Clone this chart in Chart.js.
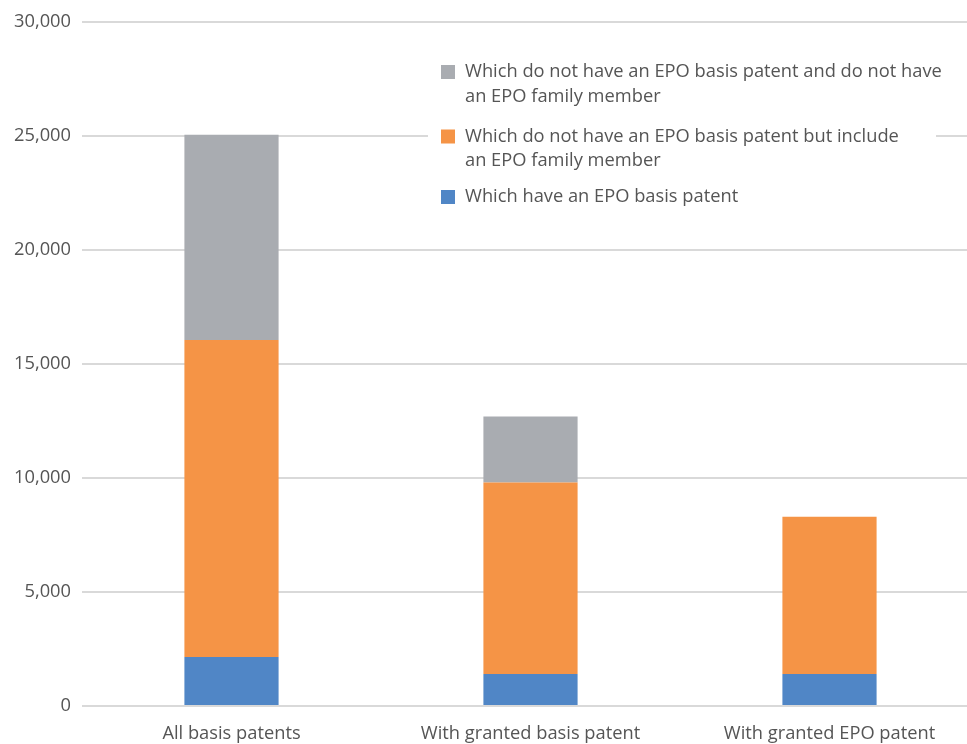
<!DOCTYPE html>
<html>
<head>
<meta charset="utf-8">
<script src="https://cdn.jsdelivr.net/npm/chart.js@4/dist/chart.umd.min.js"></script>
<style>
  html, body { margin: 0; padding: 0; background: #ffffff; overflow: hidden; }
  #wrap { position: relative; width: 967px; height: 744px; overflow: hidden; }
</style>
</head>
<body>
<div id="wrap"><canvas id="c" width="979" height="744"></canvas></div>
<script>
// ---- data ----
const categories = ["All basis patents", "With granted basis patent", "With granted EPO patent"];
const seriesLabels = [
  ["Which have an EPO basis patent"],
  ["Which do not have an EPO basis patent but include", "an EPO family member"],
  ["Which do not have an EPO basis patent and do not have", "an EPO family member"]
];
const withEpoBasis = [2150, 1400, 1400];
const epoFamilyOnly = [13900, 8400, 6900];
const noEpo = [9000, 2900, 0];
const yTicks = [0, 5000, 10000, 15000, 20000, 25000, 30000];
const seriesColors = ["#5086C6", "#F59446", "#A9ACB1"];

const fontFamily = "'Open Sans', 'Liberation Sans', sans-serif";
const textColor = "#555555";
const fontSize = 18.3;

const legendPlugin = {
  id: 'customLegend',
  afterDraw(chart) {
    const ctx = chart.ctx;
    const ds = chart.data.datasets;
    const x0 = 441, boxSize = 14, textX = 465;
    ctx.save();
    ctx.fillStyle = "#ffffff";
    ctx.fillRect(428, 52, 508, 165);
    ctx.font = fontSize + "px " + fontFamily;
    ctx.textBaseline = "middle";
    let y = 72;
    const order = [2, 1, 0];
    order.forEach((i, k) => {
      const lines = ds[i].label;
      ctx.fillStyle = ds[i].backgroundColor;
      ctx.fillRect(x0, y - 7, boxSize, boxSize);
      ctx.fillStyle = textColor;
      lines.forEach((ln, j) => {
        ctx.fillText(ln, textX, y + j * 24.5);
      });
      y += (lines.length - 1) * 24.5 + (k === 0 ? 40 : 36);
    });
    ctx.restore();
  }
};

new Chart(document.getElementById('c'), {
  type: 'bar',
  data: {
    labels: categories,
    datasets: [
      { label: seriesLabels[0], data: withEpoBasis, backgroundColor: seriesColors[0] },
      { label: seriesLabels[1], data: epoFamilyOnly, backgroundColor: seriesColors[1] },
      { label: seriesLabels[2], data: noEpo, backgroundColor: seriesColors[2] }
    ]
  },
  options: {
    responsive: false,
    animation: false,
    devicePixelRatio: 1,
    layout: { padding: { top: 10, right: 0, left: 3, bottom: -18 } },
    datasets: { bar: { categoryPercentage: 1, barPercentage: 0.315, borderWidth: 0 } },
    plugins: {
      legend: { display: false },
      tooltip: { enabled: false }
    },
    scales: {
      x: {
        stacked: true,
        grid: { display: false, drawTicks: false },
        border: { display: false },
        ticks: { color: textColor, font: { family: fontFamily, size: fontSize }, padding: 17 }
      },
      y: {
        stacked: true,
        min: 0,
        max: 30000,
        afterBuildTicks(axis) { axis.ticks = yTicks.map(v => ({ value: v })); },
        grid: { color: "#d9d9d9", lineWidth: 2, drawTicks: false },
        border: { display: false },
        ticks: {
          color: textColor,
          font: { family: fontFamily, size: fontSize },
          padding: 11,
          callback: v => v.toLocaleString('en-US')
        }
      }
    }
  },
  plugins: [legendPlugin]
});
</script>
</body>
</html>
